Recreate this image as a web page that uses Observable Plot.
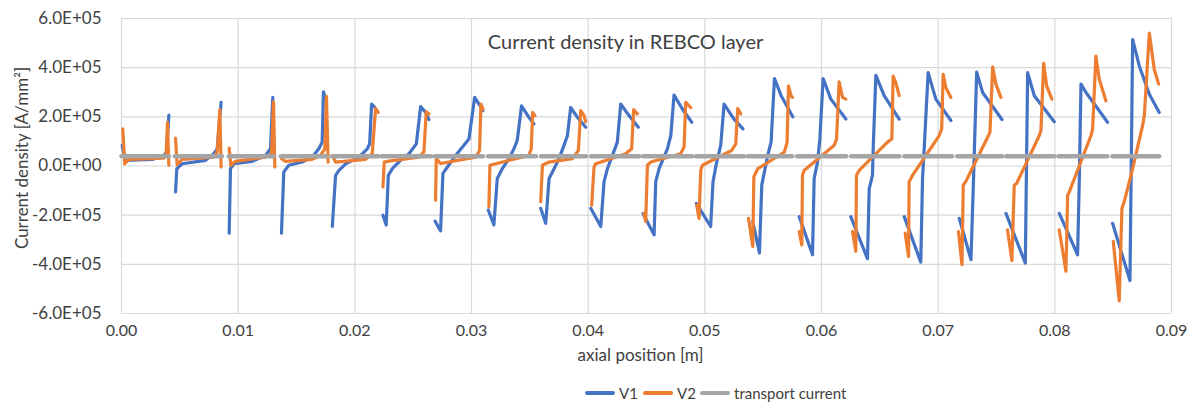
<!DOCTYPE html>
<html>
<head>
<meta charset="utf-8">
<script src="https://cdn.jsdelivr.net/npm/d3@7"></script>
<script src="https://cdn.jsdelivr.net/npm/@observablehq/plot@0.6"></script>
<style>
  html, body { margin: 0; padding: 0; background: #fff; }
  #wrap { position: relative; width: 1195px; height: 406px; font-family: Lato, "Noto Sans", sans-serif; color: #595959; }
  #legend { position: absolute; left: 0; top: 380px; width: 1195px; height: 26px; font-size: 15px; }
  .item { position: absolute; top: 0; height: 26px; display: flex; align-items: center; }
  .sw { width: 30px; height: 4px; margin-right: 4px; border-radius: 2px; }
</style>
</head>
<body>
<div id="wrap">
  <div id="chart"></div>
  <div id="legend"></div>
</div>
<script>
// ---- data (x in mm, current density in 1e5 A/mm^2) ----
const seriesNames = ["V1", "V2", "transport current"];
const seriesColors = ["#4472C4", "#ED7D31", "#A5A5A5"];
const titleText = "Current density in REBCO layer";
const xLabel = "axial position [m]";
const yLabel = "Current density [A/mm²]";
const xTicks = [0, 0.01, 0.02, 0.03, 0.04, 0.05, 0.06, 0.07, 0.08, 0.09];
const yTicks = [-6e5, -4e5, -2e5, 0, 2e5, 4e5, 6e5];

const v1Segments = [
  [[0.06,0.84],[0.34,0.23],[2.63,0.27],[3.63,0.43],[3.86,0.57],[4.06,2.07]],
  [[4.63,-1.05],[4.74,-0.11],[5.2,0.09],[7.2,0.23],[7.91,0.5],[8.2,0.7],[8.54,2.59]],
  [[9.23,-2.73],[9.34,-0.11],[9.63,0.09],[11.2,0.19],[12.34,0.43],[12.77,0.7],[12.97,2.79]],
  [[13.71,-2.73],[13.91,-0.24],[14.34,0.03],[15.48,0.16],[16.34,0.36],[16.91,0.7],[17.2,0.97],[17.31,3.02],[17.49,2.72]],
  [[18.07,-2.46],[18.35,-0.38],[18.64,-0.18],[19.21,0.09],[20.35,0.36],[21.07,0.7],[21.27,0.9],[21.44,2.52],[21.72,2.38]],
  [[22.41,-2.0],[22.69,-2.4],[22.87,-0.38],[23.21,-0.11],[23.92,0.23],[24.64,0.5],[25.27,0.9],[25.64,2.42],[26.07,2.18],[26.35,1.89]],
  [[26.87,-2.24],[27.35,-2.64],[27.55,-0.3],[27.92,-0.05],[28.64,0.43],[29.35,0.84],[29.78,1.1],[30.27,2.79],[30.64,2.52],[30.98,2.25]],
  [[31.44,-1.79],[31.92,-2.4],[32.21,-0.51],[32.64,-0.11],[33.21,0.3],[33.64,0.7],[33.92,1.04],[34.29,2.45],[34.92,1.98],[35.35,1.71]],
  [[35.93,-1.72],[36.36,-2.33],[36.65,-0.51],[37.08,-0.11],[37.5,0.3],[37.93,0.84],[38.22,1.23],[38.5,2.38],[39.08,1.98],[39.79,1.58]],
  [[40.22,-1.72],[41.08,-2.46],[41.36,-0.65],[41.65,-0.11],[42.08,0.43],[42.5,0.97],[42.79,2.52],[43.5,2.05],[44.3,1.58]],
  [[44.7,-1.93],[45.65,-2.8],[45.79,-0.65],[46.08,-0.11],[46.79,0.7],[47.08,1.23],[47.36,2.88],[48.08,2.32],[48.88,1.78]],
  [[49.27,-1.52],[50.5,-2.46],[50.7,-0.65],[50.99,0.1],[51.36,0.84],[51.65,2.52],[52.5,1.91],[53.27,1.51]],
  [[54.11,-2.26],[54.68,-3.54],[54.88,-0.78],[55.39,0.43],[55.68,0.97],[55.97,3.56],[56.54,2.86],[57.54,2.0]],
  [[58.09,-2.06],[59.23,-3.61],[59.37,-0.51],[59.66,0.16],[59.86,1.1],[60.14,3.56],[60.8,2.72],[62.09,1.91]],
  [[62.51,-2.06],[63.94,-3.77],[64.09,-0.92],[64.37,-0.38],[64.43,0.7],[64.66,3.69],[65.37,2.86],[66.66,1.91]],
  [[67.09,-2.06],[68.51,-3.91],[68.66,-0.51],[68.8,0.7],[69.14,3.8],[69.8,2.72],[71.09,1.85]],
  [[71.81,-2.13],[72.81,-3.81],[73.0,-1.0],[73.3,3.82],[73.81,2.99],[75.47,1.89]],
  [[75.81,-1.93],[77.47,-3.95],[77.67,3.8],[78.24,2.86],[79.95,1.8]],
  [[80.38,-1.93],[81.95,-3.61],[82.1,-0.5],[82.24,3.33],[82.67,2.99],[84.52,1.78]],
  [[84.95,-2.33],[86.44,-4.66],[86.67,5.14],[87.24,4.07],[88.1,2.92],[88.95,2.18]]
];

const v2Segments = [
  [[0.11,1.51],[0.28,0.09],[0.63,0.27],[3.63,0.32],[3.83,0.5],[3.94,1.78],[4.06,0.03]],
  [[4.63,1.13],[4.77,0.05],[5.2,0.27],[7.91,0.36],[8.2,0.57],[8.43,2.29],[8.54,-0.04]],
  [[9.23,0.73],[9.37,0.03],[9.77,0.19],[12.34,0.36],[12.86,0.5],[13.03,2.61],[13.14,-0.04]],
  [[13.71,0.3],[14.06,0.19],[16.34,0.27],[17.06,0.43],[17.43,0.7],[17.57,2.83],[17.71,0.16]],
  [[18.07,0.43],[18.35,0.16],[20.92,0.27],[21.49,0.5],[21.78,2.34],[22.0,2.18]],
  [[22.41,-0.85],[22.52,0.16],[22.92,0.2],[25.49,0.36],[25.92,0.57],[26.12,2.21],[26.35,2.12]],
  [[26.92,-1.39],[26.98,0.3],[27.35,0.1],[30.35,0.36],[30.69,0.63],[30.81,2.52],[30.98,2.31]],
  [[31.49,-1.66],[31.58,0.03],[32.07,0.09],[34.92,0.43],[35.12,0.7],[35.24,2.18],[35.44,2.05]],
  [[35.93,-1.45],[36.08,0.03],[36.65,0.16],[38.65,0.3],[39.16,0.63],[39.36,2.25],[39.65,2.05],[39.79,1.8]],
  [[40.3,-1.59],[40.5,-0.05],[40.65,0.09],[43.22,0.5],[43.73,0.7],[43.9,2.29],[44.22,2.12]],
  [[44.79,-1.93],[44.93,-2.26],[45.08,0.03],[45.36,0.16],[47.93,0.5],[48.22,0.77],[48.36,2.59],[48.79,2.38]],
  [[49.3,-1.59],[49.5,-2.13],[49.65,-0.18],[49.79,0.03],[52.3,0.63],[52.65,0.9],[52.82,2.34],[53.08,2.12]],
  [[53.74,-2.13],[54.11,-3.27],[54.2,-0.44],[54.54,-0.11],[56.82,0.57],[57.05,0.97],[57.17,3.26],[57.39,2.86],[57.51,2.79]],
  [[58.09,-2.67],[58.31,-3.21],[58.37,-0.38],[58.51,-0.18],[61.09,0.84],[61.29,1.1],[61.51,3.42],[61.8,2.79],[62.09,2.72]],
  [[62.66,-2.67],[62.94,-3.47],[63.0,-0.38],[63.23,-0.18],[65.66,0.97],[66.03,1.1],[66.14,3.66],[66.37,3.39],[66.66,2.86]],
  [[67.17,-2.73],[67.46,-3.68],[67.51,-0.65],[67.8,-0.38],[70.09,1.24],[70.3,1.5],[70.43,3.73],[70.66,3.19],[71.09,2.79]],
  [[71.74,-2.67],[72.04,-4.01],[72.15,-0.78],[72.38,-0.62],[74.24,1.17],[74.44,1.37],[74.67,4.03],[74.95,3.33],[75.38,2.79]],
  [[75.95,-2.6],[76.32,-3.85],[76.52,-0.78],[76.72,-0.71],[78.67,1.24],[78.81,1.44],[79.04,4.18],[79.3,3.26],[79.75,2.72]],
  [[80.38,-2.6],[80.95,-4.28],[81.1,-1.19],[81.24,-1.05],[83.1,1.24],[83.24,1.51],[83.52,4.47],[83.81,3.53],[84.38,2.65]],
  [[85.01,-3.07],[85.52,-5.49],[85.75,-1.72],[85.95,-1.45],[86.67,-0.11],[87.52,1.64],[87.67,2.05],[88.1,5.41],[88.52,3.93],[88.9,3.33]]
];

const transportStart = [0, 4.57, 9.2, 13.66, 18.03, 22.32, 26.87, 31.42, 35.96, 40.25, 44.71, 49.25, 53.71, 57.91, 62.55, 67.09, 71.64, 75.84, 80.3, 84.93];
const transportEnd   = [4.06, 8.6, 13.06, 17.6, 22.0, 26.53, 30.99, 35.53, 39.82, 44.37, 48.91, 53.37, 57.49, 62.12, 66.67, 71.2, 75.49, 79.95, 84.49, 88.95];
const transportValue = 0.4;

// ---- build tables ----
const lineRows = [];
[v1Segments, v2Segments].forEach((segs, si) => {
  segs.forEach((seg, k) => {
    seg.forEach(([xmm, v]) => lineRows.push({series: seriesNames[si], key: si + "-" + k, x: xmm / 1000, y: v * 1e5}));
  });
});
const transportRows = transportStart.map((s, i) => ({x1: s / 1000, x2: transportEnd[i] / 1000, y: transportValue * 1e5}));

function sci(d) {
  if (d === 0) return "0.0E+00";
  const e = Math.floor(Math.log10(Math.abs(d)));
  const m = d / Math.pow(10, e);
  return m.toFixed(1) + "E" + (e >= 0 ? "+" : "-") + String(Math.abs(e)).padStart(2, "0");
}

const chart = Plot.plot({
  width: 1195,
  height: 380,
  marginTop: 18,
  marginBottom: 67,
  marginLeft: 121,
  marginRight: 24,
  style: {fontFamily: "Lato, 'Noto Sans', sans-serif", fontSize: "16px", color: "#404040", background: "#fff"},
  x: {domain: [0, 0.09]},
  y: {domain: [-6e5, 6e5]},
  color: {domain: seriesNames, range: seriesColors},
  marks: [
    Plot.gridX(xTicks, {stroke: "#d9d9d9", strokeOpacity: 1, strokeWidth: 1.2}),
    Plot.gridY(yTicks, {stroke: "#d9d9d9", strokeOpacity: 1, strokeWidth: 1.2}),
    Plot.axisX(xTicks, {tickSize: 0, tickPadding: 11, tickFormat: d => d.toFixed(2), label: null, fontSize: 16}),
    Plot.axisY(yTicks, {tickSize: 0, tickPadding: 20, tickFormat: sci, label: null, fontSize: 17}),
    Plot.line(lineRows, {x: "x", y: "y", z: "key", stroke: "series", strokeWidth: 3.2, strokeLinejoin: "round", strokeLinecap: "round"}),
    Plot.link(transportRows, {x1: "x1", x2: "x2", y1: "y", y2: "y", stroke: seriesColors[2], strokeWidth: 4.5, strokeLinecap: "round"}),
    Plot.text([titleText], {frameAnchor: "top", dx: -21, dy: 24, fontSize: 20, fill: "#404040", lineAnchor: "middle"}),
    Plot.text([xLabel], {frameAnchor: "bottom", dx: -6, dy: 42, fontSize: 17, fill: "#404040", lineAnchor: "middle"}),
    Plot.text([yLabel], {frameAnchor: "left", textAnchor: "middle", dx: -99, dy: -8, rotate: -90, fontSize: 17, fill: "#404040", lineAnchor: "middle"})
  ]
});
document.getElementById("chart").appendChild(chart);

// ---- legend ----
const legend = document.getElementById("legend");
const lefts = [585, 643, 700];
seriesNames.forEach((name, i) => {
  const it = document.createElement("div");
  it.className = "item";
  it.style.left = lefts[i] + "px";
  const sw = document.createElement("div");
  sw.className = "sw";
  sw.style.background = seriesColors[i];
  const tx = document.createElement("span");
  tx.textContent = name;
  tx.style.color = "#404040";
  it.appendChild(sw); it.appendChild(tx);
  legend.appendChild(it);
});
</script>
</body>
</html>
